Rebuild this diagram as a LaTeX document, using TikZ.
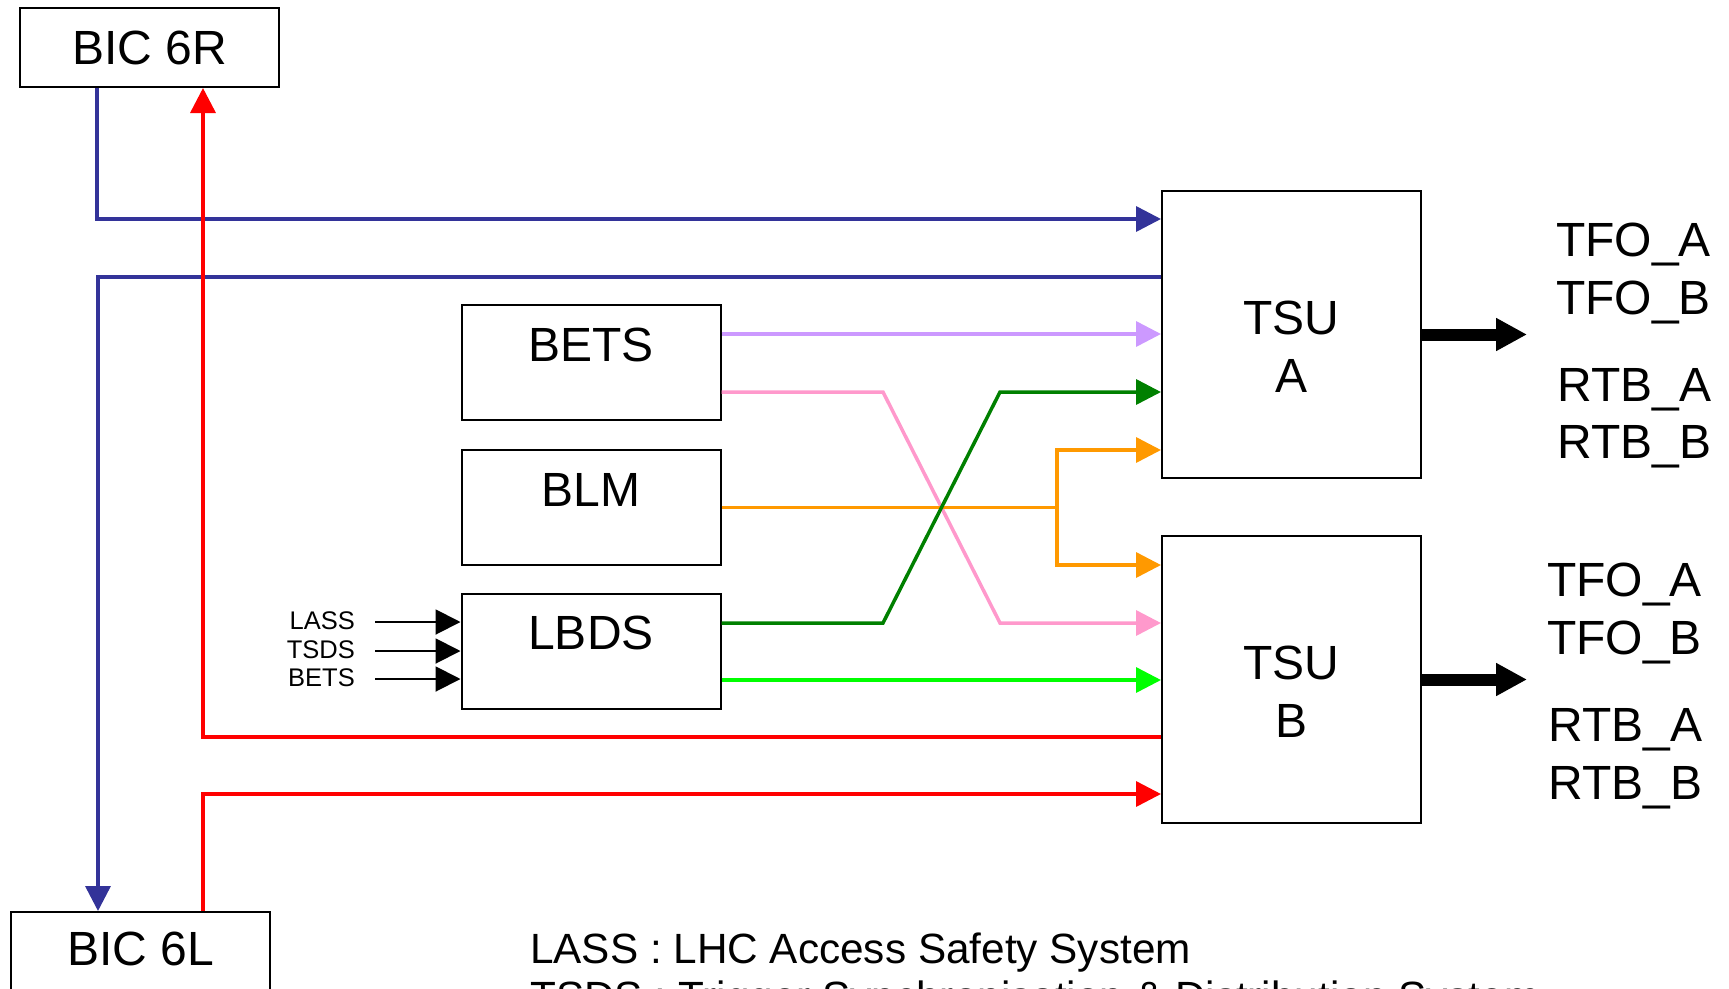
\documentclass[tikz,border=0pt]{standalone}
\usepackage{fontspec}
\setmainfont{Liberation Sans}
\usetikzlibrary{arrows.meta,calc}
\definecolor{bicblue}{RGB}{51,51,153}
\definecolor{bicred}{RGB}{255,0,0}
\definecolor{betslilac}{RGB}{204,153,255}
\definecolor{betspink}{RGB}{255,153,204}
\definecolor{lbdsgreen}{RGB}{0,128,0}
\definecolor{lbdslime}{RGB}{0,255,0}
\definecolor{blmorange}{RGB}{255,153,0}
\newcommand{\bigfont}{\fontsize{48}{57.4}\selectfont}
\newcommand{\notefont}{\fontsize{42.3}{44}\selectfont}
\newcommand{\feedfont}{\fontsize{25.5}{27}\selectfont}
\tikzset{
  block/.style={
    draw=black,
    line width=2pt,
    minimum width=259pt,
    inner sep=0pt,
    font=\bigfont
  },
  block-top/.style={
    block,
    minimum height=115pt,
    text depth=36pt
  },
  tsu-block/.style={
    block,
    minimum height=287pt,
    align=center,
    text height=115pt
  },
  wire/.style={line width=3.5pt},
  link/.style={
    wire,
    -{Triangle[length=25pt,width=25pt]}
  },
  feed/.style={
    line width=2pt,
    -{Triangle[length=25pt,width=25pt]}
  },
  out-arrow/.style={
    line width=12pt,
    -{Triangle[length=31pt,width=31pt]}
  },
  side-label/.style={font=\bigfont, inner sep=0pt, anchor=base west},
  feed-label/.style={font=\feedfont, inner xsep=20pt, inner ysep=0pt, text depth=3pt, anchor=east},
  note/.style={font=\notefont, inner sep=0pt, anchor=base west}
}

\begin{document}
\begin{tikzpicture}[x=1pt,y=-1pt]
  \useasboundingbox (0,0) rectangle (1729,988);
  % boxes
  \node[block, minimum height=79pt] (bicr) at (149.5,47.5) {BIC 6R};
  \node[block, anchor=north, minimum height=150pt, text depth=76pt] (bicl) at (140.5,911) {BIC 6L};
  \node[block-top] (bets) at (591,362.5) {BETS};
  \node[block-top] (blm) at (591,507.5) {BLM};
  \node[block-top] (lbds) at (591,651) {LBDS};
  \node[tsu-block] (tsua) at (1291.5,334.5) {TSU\\A};
  \node[tsu-block] (tsub) at (1291.5,679.5) {TSU\\B};
  % levels and bends
  \coordinate (lvl-b1) at (97,219);
  \coordinate (lvl-b2) at (98,277);
  \coordinate (lvl-r1) at (203,737);
  \coordinate (lvl-r2) at (203,794);
  \coordinate (y-lilac) at (0,334);
  \coordinate (y-or-a) at (0,450);
  \coordinate (y-or-b) at (0,565);
  \coordinate (y-lime) at (0,680);
  \coordinate (bend-up) at (883,392);
  \coordinate (bend-dn) at (1000,623);
  \coordinate (split) at (1057,507.5);
  % beam interlock loops
  \draw[link, bicblue] (bicr.south -| lvl-b1) -- (lvl-b1) -- (lvl-b1 -| tsua.west);
  \draw[link, bicblue] (lvl-b2 -| tsua.west) -- (lvl-b2) -- (lvl-b2 |- bicl.north);
  \draw[link, bicred] (lvl-r1 -| tsub.west) -- (lvl-r1) -- (lvl-r1 |- bicr.south);
  \draw[link, bicred] (bicl.north -| lvl-r2) -- (lvl-r2) -- (lvl-r2 -| tsub.west);
  % BETS, BLM, LBDS to the TSUs
  \draw[link, betslilac] (bets.east |- y-lilac) -- (tsua.west |- y-lilac);
  \draw[link, betspink] (bets.east |- bend-up) -- (bend-up) -- (bend-dn) -- (tsub.west |- bend-dn);
  \draw[wire, blmorange] (blm.east) -- (split);
  \draw[link, blmorange] (split) |- (tsua.west |- y-or-a);
  \draw[link, blmorange] (split) |- (tsub.west |- y-or-b);
  \draw[link, lbdsgreen] (lbds.east |- bend-dn) -- (bend-up |- bend-dn) -- (bend-dn |- bend-up) -- (tsua.west |- bend-up);
  \draw[link, lbdslime] (lbds.east |- y-lime) -- (tsub.west |- y-lime);
  % inputs of the LBDS
  \node[feed-label] (lass) at (375,622) {LASS};
  \node[feed-label] (tsds) at (375,651) {TSDS};
  \node[feed-label] (betsin) at (375,679) {BETS};
  \draw[feed] (lass.east) -- (lass.east -| lbds.west);
  \draw[feed] (tsds.east) -- (tsds.east -| lbds.west);
  \draw[feed] (betsin.east) -- (betsin.east -| lbds.west);
  % outputs
  \coordinate (out-a) at (1527,334.5);
  \coordinate (out-b) at (1527,679.5);
  \draw[out-arrow] (tsua.east) -- (out-a);
  \draw[out-arrow] (tsub.east) -- (out-b);
  \node[side-label] (tfoa-a) at (1556,256) {TFO\_A};
  \node[side-label] (tfob-a) at (1556,314) {TFO\_B};
  \node[side-label] (rtba-a) at (1557,401) {RTB\_A};
  \node[side-label] (rtbb-a) at (1557,458) {RTB\_B};
  \node[side-label] (tfoa-b) at (1547,596) {TFO\_A};
  \node[side-label] (tfob-b) at (1547,654) {TFO\_B};
  \node[side-label] (rtba-b) at (1548,741) {RTB\_A};
  \node[side-label] (rtbb-b) at (1548,799) {RTB\_B};
  % legend
  \node[note] (note-lass) at (530,963) {LASS : LHC Access Safety System};
  \node[note] (note-tsds) at (530,1011) {TSDS : Trigger Synchronisation \& Distribution System};
\end{tikzpicture}
\end{document}
